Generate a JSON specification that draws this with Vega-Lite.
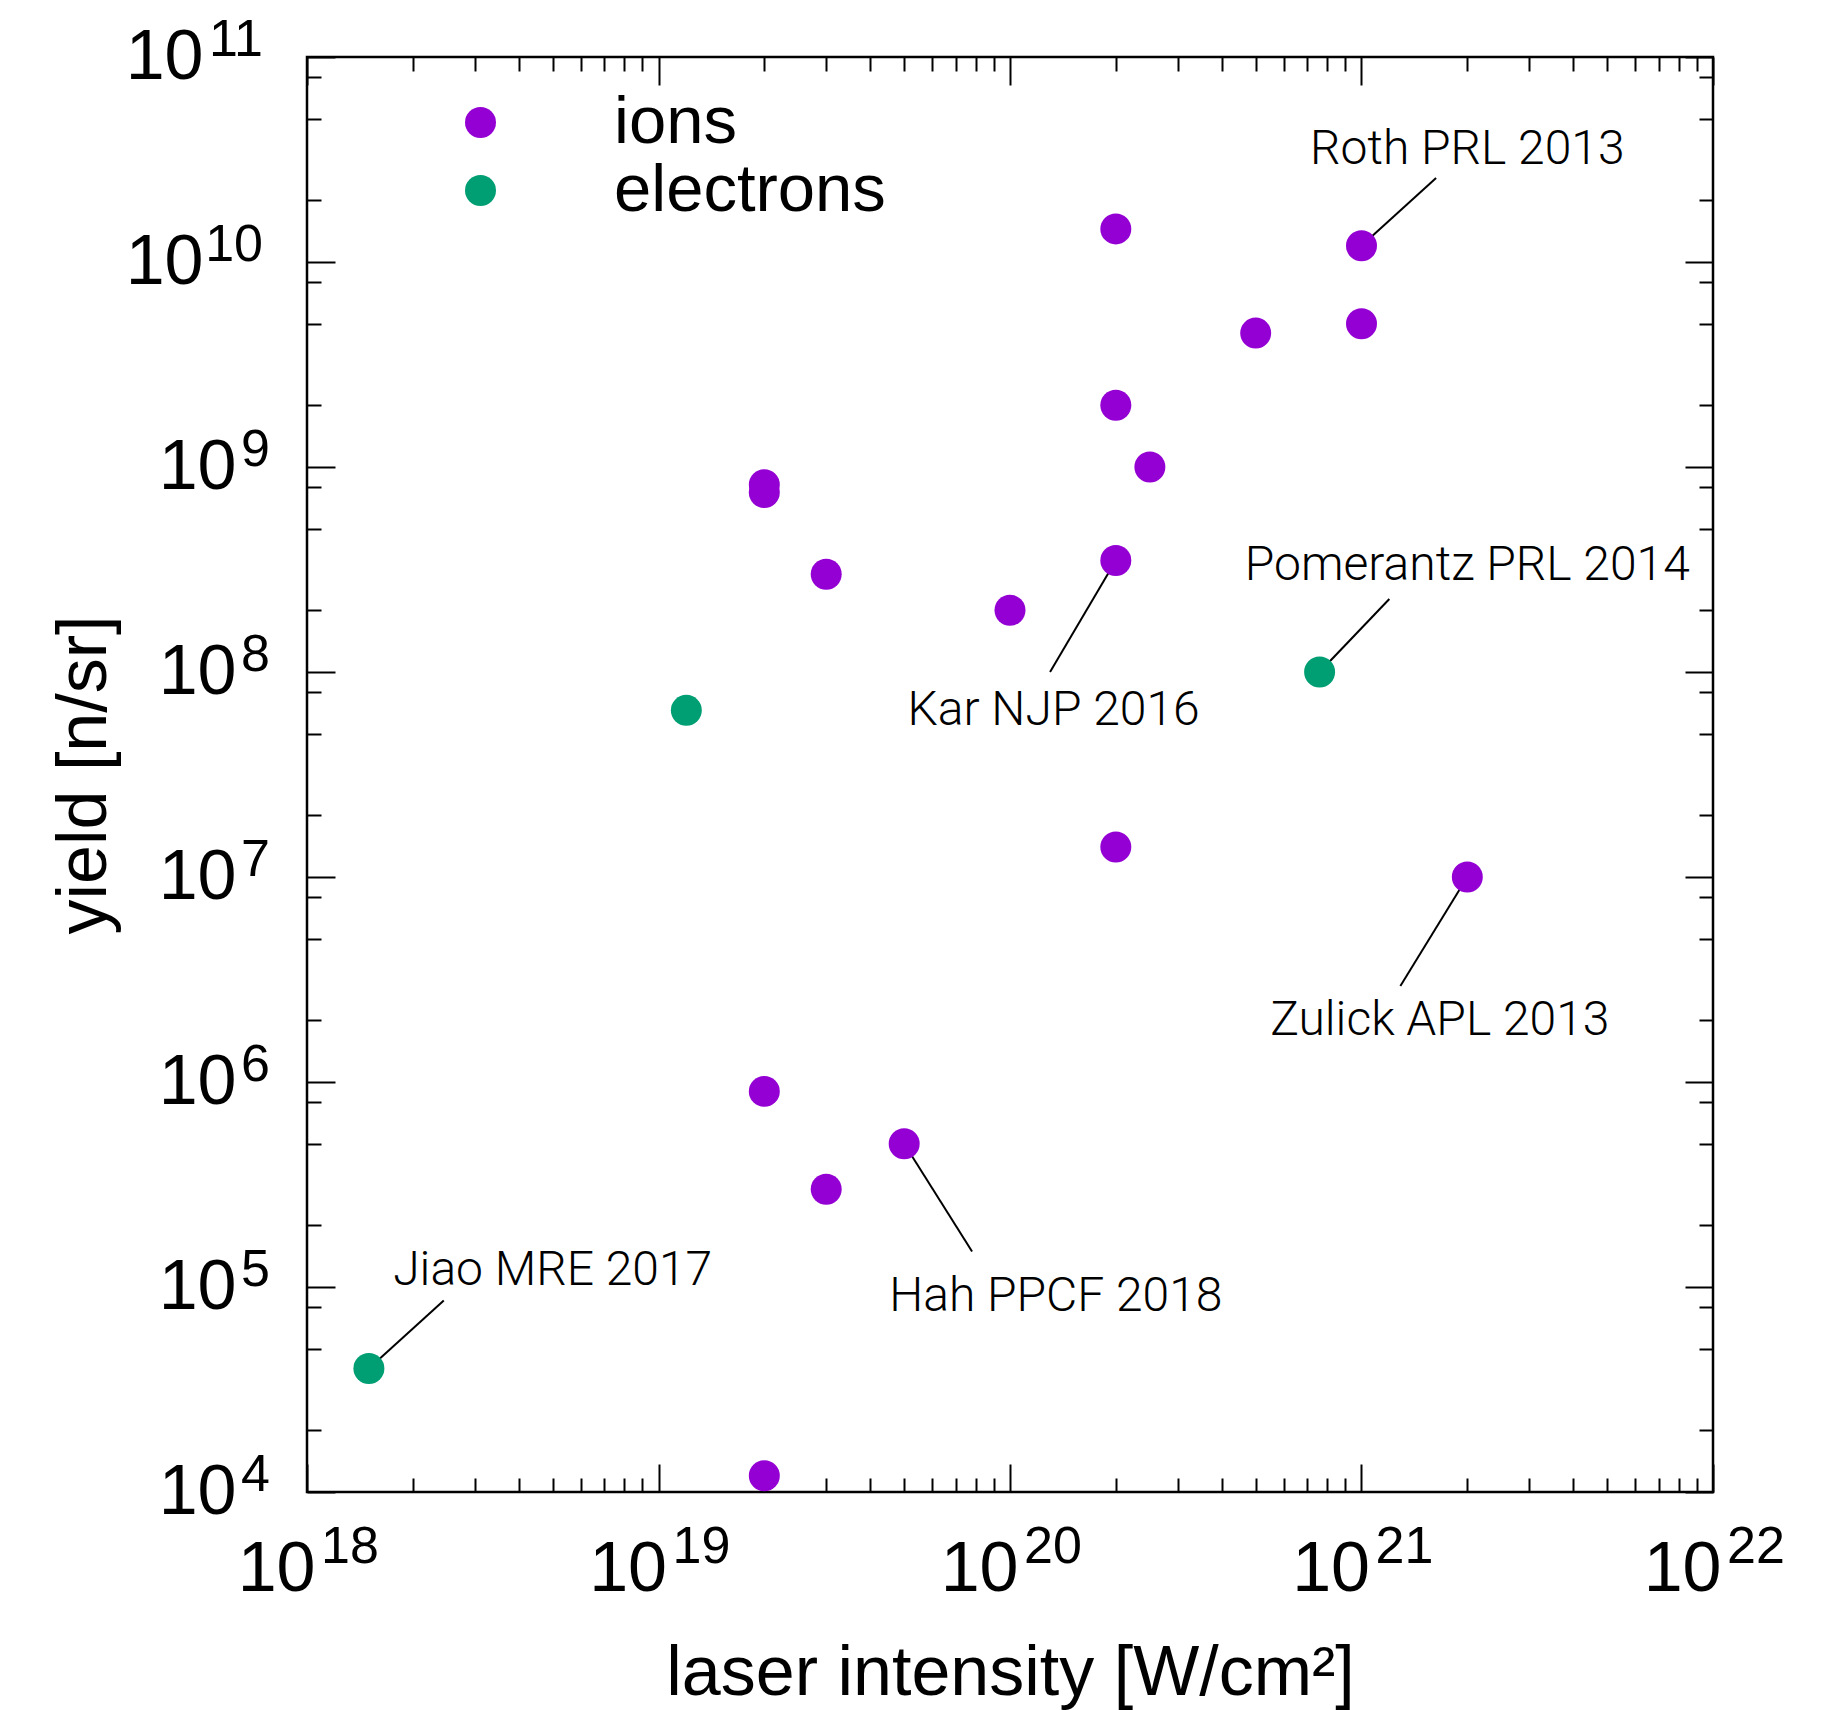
{
  "$schema": "https://vega.github.io/schema/vega-lite/v6.json",
  "width": 1406,
  "height": 1435,
  "autosize": {"type": "none"},
  "padding": {"left": 307, "top": 57, "right": 121, "bottom": 218},
  "background": "white",
  "config": {
    "view": {"stroke": "black", "strokeWidth": 2.5},
    "axis": {
      "grid": false,
      "domain": false,
      "tickColor": "black",
      "tickWidth": 2,
      "labelFont": "Liberation Sans",
      "titleFont": "Liberation Sans",
      "labelColor": "black",
      "titleColor": "black",
      "titleFontWeight": "normal",
      "labelFontSize": 70,
      "titleFontSize": 70,
      "labelOverlap": false,
      "labelBound": false,
      "labelFlush": false
    },
    "text": {"font": "Liberation Sans", "color": "black"}
  },
  "datasets": {
    "measurements": [
      {"intensity": 2e20, "yield": 1.45e10, "species": "ions"},
      {"intensity": 1e21, "yield": 1.2e10, "species": "ions"},
      {"intensity": 1e21, "yield": 5e9, "species": "ions"},
      {"intensity": 5e20, "yield": 4.5e9, "species": "ions"},
      {"intensity": 2e20, "yield": 2e9, "species": "ions"},
      {"intensity": 2.5e20, "yield": 1e9, "species": "ions"},
      {"intensity": 2e19, "yield": 8.2e8, "species": "ions"},
      {"intensity": 2e19, "yield": 7.5e8, "species": "ions"},
      {"intensity": 3e19, "yield": 3e8, "species": "ions"},
      {"intensity": 2e20, "yield": 3.5e8, "species": "ions"},
      {"intensity": 1e20, "yield": 2e8, "species": "ions"},
      {"intensity": 2e20, "yield": 1.4e7, "species": "ions"},
      {"intensity": 2e21, "yield": 1e7, "species": "ions"},
      {"intensity": 2e19, "yield": 9e5, "species": "ions"},
      {"intensity": 5e19, "yield": 5e5, "species": "ions"},
      {"intensity": 3e19, "yield": 3e5, "species": "ions"},
      {"intensity": 2e19, "yield": 1.2e4, "species": "ions"},
      {"intensity": 1.5e18, "yield": 4e4, "species": "electrons"},
      {"intensity": 1.2e19, "yield": 6.5e7, "species": "electrons"},
      {"intensity": 7.6e20, "yield": 1e8, "species": "electrons"}
    ],
    "annotations": [
      {"label": "Roth PRL 2013", "px": 1e21, "py": 1.2e10, "lx": 1.63e21, "ly": 2.57e10, "tx": 2.0e21, "ty": 3.0e10},
      {"label": "Pomerantz PRL 2014", "px": 7.6e20, "py": 1e8, "lx": 1.2e21, "ly": 2.27e8, "tx": 2.0e21, "ty": 2.8e8},
      {"label": "Kar NJP 2016", "px": 2e20, "py": 3.5e8, "lx": 1.3e20, "ly": 1.0e8, "tx": 1.33e20, "ty": 5.5e7},
      {"label": "Zulick APL 2013", "px": 2e21, "py": 1e7, "lx": 1.29e21, "ly": 2.94e6, "tx": 1.67e21, "ty": 1.7e6},
      {"label": "Hah PPCF 2018", "px": 5e19, "py": 5e5, "lx": 7.8e19, "ly": 1.49e5, "tx": 1.35e20, "ty": 7.6e4},
      {"label": "Jiao MRE 2017", "px": 1.5e18, "py": 4e4, "lx": 2.45e18, "ly": 8.6e4, "tx": 5e18, "ty": 1.02e5}
    ],
    "xExponents": [
      {"power": 1e18, "exponent": "18"},
      {"power": 1e19, "exponent": "19"},
      {"power": 1e20, "exponent": "20"},
      {"power": 1e21, "exponent": "21"},
      {"power": 1e22, "exponent": "22"}
    ],
    "yExponents": [
      {"power": 1e4, "exponent": "4"},
      {"power": 1e5, "exponent": "5"},
      {"power": 1e6, "exponent": "6"},
      {"power": 1e7, "exponent": "7"},
      {"power": 1e8, "exponent": "8"},
      {"power": 1e9, "exponent": "9"},
      {"power": 1e10, "exponent": "10"},
      {"power": 1e11, "exponent": "11"}
    ]
  },
  "layer": [
    {
      "data": {"name": "annotations"},
      "mark": {"type": "rule", "strokeWidth": 2, "color": "black"},
      "encoding": {
        "x": {
          "field": "px", "type": "quantitative",
          "scale": {"type": "log", "domain": [1e18, 1e22], "nice": false},
          "axis": {
            "orient": "bottom", "labels": false, "tickSize": -14, "title": null,
            "values": [2e18, 3e18, 4e18, 5e18, 6e18, 7e18, 8e18, 9e18, 2e19, 3e19, 4e19, 5e19, 6e19, 7e19, 8e19, 9e19, 2e20, 3e20, 4e20, 5e20, 6e20, 7e20, 8e20, 9e20, 2e21, 3e21, 4e21, 5e21, 6e21, 7e21, 8e21, 9e21]
          }
        },
        "y": {
          "field": "py", "type": "quantitative",
          "scale": {"type": "log", "domain": [1e4, 1e11], "nice": false},
          "axis": {
            "orient": "left", "labels": false, "tickSize": -14, "title": null,
            "values": [2e4, 5e4, 8e4, 2e5, 5e5, 8e5, 2e6, 5e6, 8e6, 2e7, 5e7, 8e7, 2e8, 5e8, 8e8, 2e9, 5e9, 8e9, 2e10, 5e10, 8e10]
          }
        },
        "x2": {"field": "lx"},
        "y2": {"field": "ly"}
      }
    },
    {
      "data": {"name": "measurements"},
      "mark": {"type": "circle", "size": 960, "opacity": 1},
      "encoding": {
        "x": {
          "field": "intensity", "type": "quantitative",
          "scale": {"type": "log", "domain": [1e18, 1e22], "nice": false},
          "axis": {
            "orient": "bottom", "values": [1e18, 1e19, 1e20, 1e21, 1e22],
            "tickSize": -28, "labelExpr": "'10'", "labelAlign": "right",
            "labelBaseline": "top", "labelOffset": 8, "labelPadding": 71,
            "title": "laser intensity [W/cm²]", "titlePadding": 35
          }
        },
        "y": {
          "field": "yield", "type": "quantitative",
          "scale": {"type": "log", "domain": [1e4, 1e11], "nice": false},
          "axis": {
            "orient": "left", "values": [1e4, 1e5, 1e6, 1e7, 1e8, 1e9, 1e10, 1e11],
            "tickSize": -28, "labelExpr": "'10'", "labelAlign": "right",
            "labelBaseline": "middle",
            "labelPadding": {"condition": {"test": "datum.value >= 1e10", "value": 132}, "value": 99},
            "title": "yield [n/sr]", "titlePadding": 5
          }
        },
        "color": {
          "field": "species", "type": "nominal",
          "scale": {"domain": ["ions", "electrons"], "range": ["#9400D3", "#009E73"]},
          "legend": {
            "title": null, "orient": "none", "legendX": 140, "legendY": 32,
            "symbolType": "circle", "symbolSize": 960, "symbolStrokeWidth": 0,
            "symbolOpacity": 1, "labelFontSize": 67, "labelFont": "Liberation Sans",
            "labelColor": "black", "labelOffset": 100, "labelLimit": 0,
            "rowPadding": 0, "padding": 0
          }
        }
      }
    },
    {
      "data": {"name": "annotations"},
      "mark": {"type": "text", "font": "Roboto", "fontWeight": 300, "fontSize": 48, "align": "center", "baseline": "alphabetic"},
      "encoding": {
        "x": {
          "field": "tx", "type": "quantitative",
          "scale": {"type": "log", "domain": [1e18, 1e22], "nice": false},
          "axis": {"orient": "top", "labels": false, "tickSize": -28, "title": null, "values": [1e18, 1e19, 1e20, 1e21, 1e22]}
        },
        "y": {
          "field": "ty", "type": "quantitative",
          "scale": {"type": "log", "domain": [1e4, 1e11], "nice": false},
          "axis": {"orient": "right", "labels": false, "tickSize": -28, "title": null, "values": [1e4, 1e5, 1e6, 1e7, 1e8, 1e9, 1e10, 1e11]}
        },
        "text": {"field": "label"}
      }
    },
    {
      "data": {"name": "xExponents"},
      "mark": {"type": "text", "fontSize": 52, "align": "left", "baseline": "alphabetic", "dx": 14, "dy": 71},
      "encoding": {
        "x": {
          "field": "power", "type": "quantitative",
          "scale": {"type": "log", "domain": [1e18, 1e22], "nice": false},
          "axis": {
            "orient": "top", "labels": false, "tickSize": -14, "title": null,
            "values": [2e18, 3e18, 4e18, 5e18, 6e18, 7e18, 8e18, 9e18, 2e19, 3e19, 4e19, 5e19, 6e19, 7e19, 8e19, 9e19, 2e20, 3e20, 4e20, 5e20, 6e20, 7e20, 8e20, 9e20, 2e21, 3e21, 4e21, 5e21, 6e21, 7e21, 8e21, 9e21]
          }
        },
        "y": {
          "datum": 10000, "type": "quantitative",
          "scale": {"type": "log", "domain": [1e4, 1e11], "nice": false},
          "axis": {
            "orient": "right", "labels": false, "tickSize": -14, "title": null,
            "values": [2e4, 5e4, 8e4, 2e5, 5e5, 8e5, 2e6, 5e6, 8e6, 2e7, 5e7, 8e7, 2e8, 5e8, 8e8, 2e9, 5e9, 8e9, 2e10, 5e10, 8e10]
          }
        },
        "text": {"field": "exponent"}
      }
    },
    {
      "data": {"name": "yExponents"},
      "transform": [{"filter": "datum.power < 1e10"}],
      "mark": {"type": "text", "fontSize": 52, "align": "right", "baseline": "alphabetic", "dx": -37, "dy": -1},
      "encoding": {
        "x": {
          "datum": 1e18, "type": "quantitative",
          "scale": {"type": "log", "domain": [1e18, 1e22], "nice": false},
          "axis": null
        },
        "y": {
          "field": "power", "type": "quantitative",
          "scale": {"type": "log", "domain": [1e4, 1e11], "nice": false},
          "axis": null
        },
        "text": {"field": "exponent"}
      }
    },
    {
      "data": {"name": "yExponents"},
      "transform": [{"filter": "datum.power >= 1e10"}],
      "mark": {"type": "text", "fontSize": 52, "align": "right", "baseline": "alphabetic", "dx": -44, "dy": -1},
      "encoding": {
        "x": {
          "datum": 1e18, "type": "quantitative",
          "scale": {"type": "log", "domain": [1e18, 1e22], "nice": false},
          "axis": null
        },
        "y": {
          "field": "power", "type": "quantitative",
          "scale": {"type": "log", "domain": [1e4, 1e11], "nice": false},
          "axis": null
        },
        "text": {"field": "exponent"}
      }
    }
  ],
  "resolve": {"axis": {"x": "independent", "y": "independent"}}
}
